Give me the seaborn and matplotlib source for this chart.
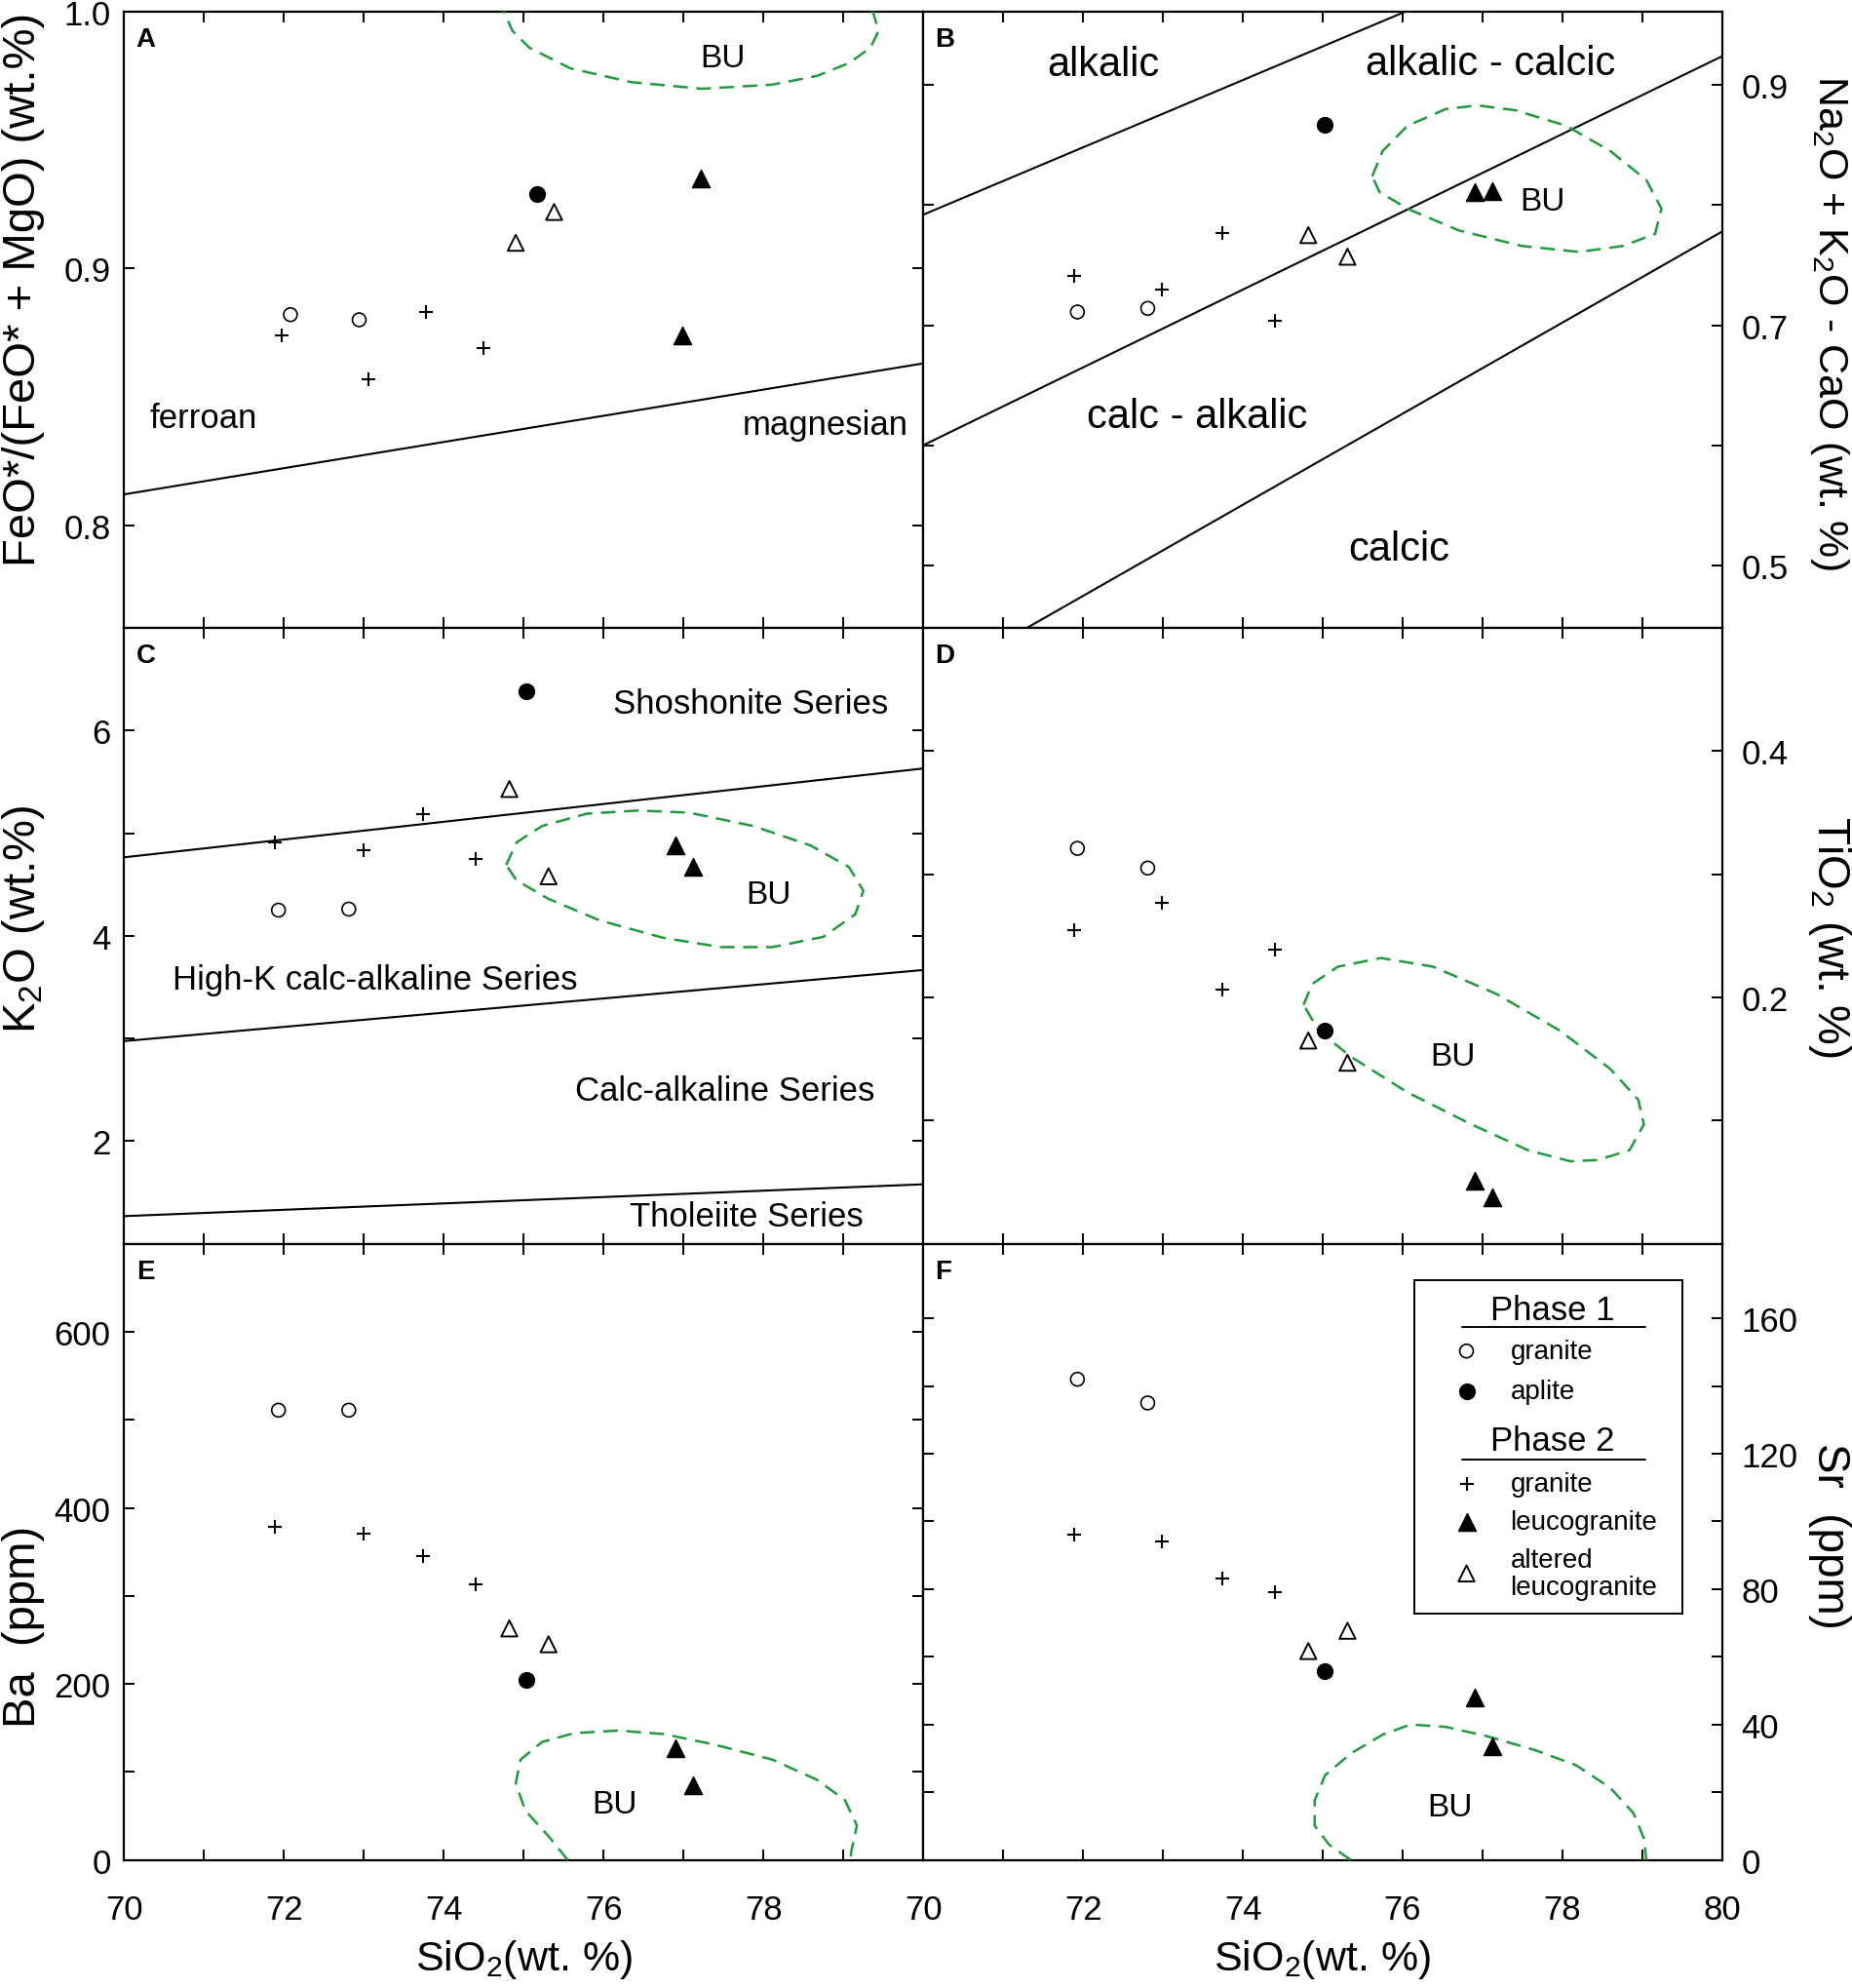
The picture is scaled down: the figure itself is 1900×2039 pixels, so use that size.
import matplotlib
matplotlib.use("Agg")
import pandas as pd
import matplotlib.pyplot as plt
import seaborn as sns
from matplotlib.ticker import FixedLocator
from matplotlib.patches import Rectangle

# sample data
group = ["p1_granite", "p1_granite", "p1_aplite",
         "p2_granite", "p2_granite", "p2_granite", "p2_granite",
         "leuco", "leuco", "alt_leuco", "alt_leuco"]
sio2 = [71.93, 72.81, 75.03, 71.89, 72.99, 73.74, 74.40, 76.90, 77.12, 74.82, 75.31]
# panel A is plotted slightly offset in the original
sio2_a = [72.08, 72.94, 75.17, 71.97, 73.06, 73.78, 74.50, 76.99, 77.22, 74.90, 75.38]
fe_number = [0.882, 0.880, 0.929, 0.874, 0.857, 0.883, 0.869, 0.874, 0.935, 0.910, 0.922]
mali = [0.711, 0.714, 0.867, 0.741, 0.730, 0.777, 0.704, 0.811, 0.812, 0.775, 0.757]
k2o = [4.25, 4.26, 6.38, 4.91, 4.83, 5.19, 4.75, 4.88, 4.67, 5.43, 4.58]
tio2 = [0.321, 0.305, 0.173, 0.255, 0.277, 0.206, 0.239, 0.051, 0.0375, 0.165, 0.147]
ba = [511, 511, 204, 378, 371, 345, 313, 127, 85, 263, 245]
sr = [142, 135, 55.7, 96, 94, 83, 79, 47.9, 33.6, 61.7, 67.7]

df = pd.DataFrame({"group": group, "SiO2": sio2, "SiO2_A": sio2_a, "fe": fe_number,
                   "mali": mali, "K2O": k2o, "TiO2": tio2, "Ba": ba, "Sr": sr})

# classification boundaries (two points on each line)
line_a = [[(70, 0.812), (80, 0.863)]]
line_b = [[(70, 0.792), (76.03, 0.961)],
          [(70, 0.600), (80, 0.924)],
          [(71.30, 0.448), (80, 0.778)]]
line_c = [[(70, 4.765), (80, 5.63)],
          [(70, 2.975), (80, 3.667)],
          [(70, 1.27), (80, 1.58)]]

# BU field outlines
bu_a_x = [74.72, 74.75, 74.86, 75.07, 75.58, 76.34, 77.23, 78.11, 78.67, 79.07, 79.34, 79.44, 79.38, 79.31]
bu_a_y = [1.005, 1.000, 0.9925, 0.986, 0.978, 0.9726, 0.970, 0.9716, 0.975, 0.980, 0.986, 0.9925, 0.999, 1.005]
bu_b_x = [75.62, 75.75, 76.06, 76.54, 76.94, 77.41, 78.05, 78.60, 79.05, 79.24, 79.16, 78.76, 78.21, 77.49, 76.70, 76.06, 75.71, 75.62]
bu_b_y = [0.824, 0.845, 0.866, 0.880, 0.883, 0.879, 0.866, 0.845, 0.821, 0.797, 0.776, 0.766, 0.761, 0.766, 0.779, 0.797, 0.811, 0.824]
bu_c_x = [74.78, 74.91, 75.23, 75.79, 76.43, 77.07, 77.87, 78.59, 79.07, 79.25, 79.15, 78.75, 78.11, 77.47, 76.75, 75.95, 75.31, 74.91, 74.78]
bu_c_y = [4.69, 4.91, 5.07, 5.19, 5.22, 5.20, 5.07, 4.88, 4.67, 4.44, 4.21, 3.99, 3.89, 3.89, 3.98, 4.15, 4.36, 4.54, 4.69]
bu_d_x = [74.76, 74.87, 75.19, 75.73, 76.38, 77.17, 77.97, 78.60, 78.95, 79.02, 78.84, 78.44, 78.10, 77.57, 76.86, 76.06, 75.35, 74.95, 74.76]
bu_d_y = [0.194, 0.211, 0.225, 0.232, 0.225, 0.203, 0.173, 0.142, 0.117, 0.097, 0.076, 0.068, 0.067, 0.076, 0.097, 0.123, 0.152, 0.173, 0.194]
bu_e_x = [75.55, 75.31, 75.02, 74.90, 74.96, 75.23, 75.63, 76.18, 76.75, 77.39, 78.11, 78.67, 79.02, 79.17, 79.10, 79.09]
bu_e_y = [0, 27, 56, 87, 114, 134, 144, 147, 143, 131, 114, 91, 68, 39, 10, 0]
bu_f_x = [75.35, 75.08, 74.90, 74.90, 75.03, 75.35, 75.75, 76.10, 76.54, 77.05, 77.65, 78.17, 78.60, 78.89, 79.02, 79.05]
bu_f_y = [0, 4.5, 10.1, 17.6, 25.0, 31.4, 37.0, 40.0, 39.3, 36.6, 32.5, 28.0, 21.3, 13.8, 6.4, 0]

styles = {
    "p1_granite": dict(marker="o", s=100, facecolor="none", edgecolor="black", linewidth=1.2),
    "p1_aplite": dict(marker="o", s=130, facecolor="black", edgecolor="black", linewidth=1),
    "p2_granite": dict(marker="+", s=110, color="black", linewidth=1.5),
    "leuco": dict(marker="^", s=170, facecolor="black", edgecolor="black", linewidth=1),
    "alt_leuco": dict(marker="^", s=140, facecolor="none", edgecolor="black", linewidth=1.4),
}

GREEN = "#1f9a3c"

sns.set_style("ticks", rc={"axes.edgecolor": "black", "xtick.color": "black",
                           "ytick.color": "black", "text.color": "black",
                           "axes.labelcolor": "black"})
plt.rcParams["font.family"] = ["Liberation Sans", "DejaVu Sans"]
plt.rcParams["mathtext.fontset"] = "custom"
plt.rcParams["mathtext.rm"] = "Liberation Sans"
plt.rcParams["mathtext.it"] = "Liberation Sans:italic"
plt.rcParams["mathtext.bf"] = "Liberation Sans:bold"

fig, axes = plt.subplots(3, 2, figsize=(19, 20.4), dpi=100)
fig.subplots_adjust(left=0.0671, right=0.9299, top=0.9936, bottom=0.0644, wspace=0, hspace=0)

panels = [
    # ax, x column, y column, ylim, major, minor, label, label size, label y, letter, lines, outline
    (axes[0, 0], "SiO2_A", "fe", (0.76, 1.0), [0.8, 0.9, 1.0], [],
     "FeO*/(FeO* + MgO) (wt.%)", 34, 0.55, "A", line_a, (bu_a_x, bu_a_y)),
    (axes[0, 1], "SiO2", "mali", (0.448, 0.961), [0.5, 0.7, 0.9], [0.6, 0.8],
     r"Na$_\mathrm{2}$O + K$_\mathrm{2}$O - CaO (wt. %)", 31, 0.497, "B", line_b, (bu_b_x, bu_b_y)),
    (axes[1, 0], "SiO2", "K2O", (1, 7), [2, 4, 6], [3, 5],
     r"K$_\mathrm{2}$O (wt.%)", 34, 0.528, "C", line_c, (bu_c_x, bu_c_y)),
    (axes[1, 1], "SiO2", "TiO2", (0, 0.5), [0.2, 0.4], [0.1, 0.3],
     r"TiO$_\mathrm{2}$ (wt. %)", 33, 0.5, "D", [], (bu_d_x, bu_d_y)),
    (axes[2, 0], "SiO2", "Ba", (0, 700), [0, 200, 400, 600], [100, 300, 500],
     "Ba  (ppm)", 34, 0.38, "E", [], (bu_e_x, bu_e_y)),
    (axes[2, 1], "SiO2", "Sr", (0, 182), [0, 40, 80, 120, 160], [20, 60, 100, 140],
     "Sr  (ppm)", 33, 0.528, "F", [], (bu_f_x, bu_f_y)),
]

for i, (ax, xcol, col, ylim, major, minor, ylabel, lsize, ly, letter, lines, outline) in enumerate(panels):
    right = i % 2 == 1
    bottom = i >= 4

    for g, st in styles.items():
        sub = df[df["group"] == g]
        sns.scatterplot(data=sub, x=xcol, y=col, ax=ax, legend=False, zorder=4, **st)

    for p1, p2 in lines:
        ax.axline(p1, p2, color="black", lw=1.5, zorder=2)

    ax.plot(outline[0], outline[1], color=GREEN, lw=1.8, ls=(0, (6, 3.5)), zorder=3)

    ax.set_xlim(70, 80)
    ax.set_ylim(*ylim)
    if right:
        ax.xaxis.set_major_locator(FixedLocator([70, 72, 74, 76, 78, 80]))
        ax.xaxis.set_minor_locator(FixedLocator([71, 73, 75, 77, 79]))
    else:
        ax.xaxis.set_major_locator(FixedLocator([70, 72, 74, 76, 78]))
        ax.xaxis.set_minor_locator(FixedLocator([71, 73, 75, 77, 79, 80]))
    ax.yaxis.set_major_locator(FixedLocator(major))
    ax.yaxis.set_minor_locator(FixedLocator(minor))

    ax.tick_params(which="both", direction="in", top=True, right=True, left=True, bottom=True,
                   length=8, width=1.4, labelsize=25)
    ax.tick_params(axis="x", which="both", pad=25, labelbottom=bottom)
    if right:
        ax.tick_params(axis="y", which="both", labelleft=False, labelright=True, pad=14)
    else:
        ax.tick_params(axis="y", which="both", pad=10)
    for sp in ax.spines.values():
        sp.set_linewidth(1.6)

    if right:
        ax.set_ylabel(ylabel, fontsize=lsize, rotation=270)
        ax.yaxis.set_label_position("right")
        ax.yaxis.label.set_va("center")
        ax.yaxis.set_label_coords(1.134, ly)
    else:
        ax.set_ylabel(ylabel, fontsize=lsize)
        ax.yaxis.label.set_va("center")
        ax.yaxis.set_label_coords(-0.126, ly)

    if bottom:
        ax.set_xlabel(r"SiO$_\mathrm{2}$(wt. %)", fontsize=31)
        ax.xaxis.set_label_coords(0.5, -0.125)
    else:
        ax.set_xlabel("")

    ax.text(0.015, 0.955, letter, transform=ax.transAxes, ha="left", va="center",
            fontsize=20, fontweight="bold")

# field names
ax = axes[0, 0]
ax.text(70.99, 0.842, "ferroan", ha="center", va="center", fontsize=25)
ax.text(78.77, 0.839, "magnesian", ha="center", va="center", fontsize=25)
ax.text(77.49, 0.982, "BU", ha="center", va="center", fontsize=24)

ax = axes[0, 1]
ax.text(72.25, 0.917, "alkalic", ha="center", va="center", fontsize=30)
ax.text(77.10, 0.918, "alkalic - calcic", ha="center", va="center", fontsize=30)
ax.text(77.75, 0.803, "BU", ha="center", va="center", fontsize=24)
ax.text(73.43, 0.624, "calc - alkalic", ha="center", va="center", fontsize=30)
ax.text(75.95, 0.514, "calcic", ha="center", va="center", fontsize=30)

ax = axes[1, 0]
ax.text(77.84, 6.26, "Shoshonite Series", ha="center", va="center", fontsize=25)
ax.text(73.14, 3.58, "High-K calc-alkaline Series", ha="center", va="center", fontsize=25)
ax.text(77.52, 2.49, "Calc-alkaline Series", ha="center", va="center", fontsize=25)
ax.text(77.79, 1.27, "Tholeiite Series", ha="center", va="center", fontsize=25)
ax.text(78.06, 4.40, "BU", ha="center", va="center", fontsize=24)

axes[1, 1].text(76.63, 0.152, "BU", ha="center", va="center", fontsize=24)
axes[2, 0].text(76.13, 63.5, "BU", ha="center", va="center", fontsize=24)
axes[2, 1].text(76.59, 15.7, "BU", ha="center", va="center", fontsize=24)

# legend drawn by hand inside panel F
ax = axes[2, 1]
tr = ax.transAxes
ax.add_patch(Rectangle((0.6146, 0.4006), 0.3354, 0.54, transform=tr, fill=False,
                       lw=1.4, edgecolor="black", zorder=5))
ax.text(0.788, 0.893, "Phase 1", transform=tr, ha="center", va="center", fontsize=25)
ax.plot([0.674, 0.904], [0.865, 0.865], transform=tr, color="black", lw=1.4)
ax.text(0.788, 0.680, "Phase 2", transform=tr, ha="center", va="center", fontsize=25)
ax.plot([0.674, 0.904], [0.650, 0.650], transform=tr, color="black", lw=1.4)

legend_rows = [("p1_granite", 0.826, "granite"),
               ("p1_aplite", 0.761, "aplite"),
               ("p2_granite", 0.611, "granite"),
               ("leuco", 0.548, "leucogranite"),
               ("alt_leuco", 0.465, "altered\nleucogranite")]
for g, yy, lab in legend_rows:
    ax.scatter([0.680], [yy], transform=tr, zorder=6, **styles[g])
    ax.text(0.735, yy, lab, transform=tr, ha="left", va="center", fontsize=20,
            linespacing=1.1)

fig.savefig("out.png", dpi=100)
